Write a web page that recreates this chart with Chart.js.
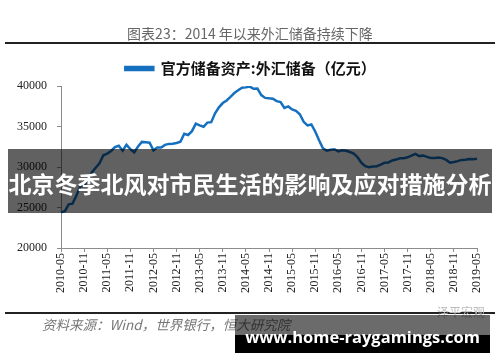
<!DOCTYPE html>
<html>
<head>
<meta charset="utf-8">
<script src="https://cdn.jsdelivr.net/npm/chart.js@4"></script>
<style>
  body { margin: 0; background: #fff; }
  #wrap { position: relative; width: 500px; height: 362px; overflow: hidden; font-family: "Noto Sans CJK SC", sans-serif; }
  #chart { position: absolute; left: 0; top: 0; }
  .abs { position: absolute; }
  #title { top: 24px; left: 0; width: 500px; text-align: center; font-size: 14px; color: #666; line-height: 18px; }
  .rule { left: 5px; width: 490px; height: 2px; background: #222; }
  #source { left: 42px; top: 315px; font-size: 13.5px; font-style: italic; color: #777; line-height: 18px; }
  #mark { left: 437px; top: 305px; font-size: 12px; color: #bbb; line-height: 14px; }
  #banner { left: 8px; top: 149px; width: 484px; height: 64px; background: rgba(0,0,0,0.62);
            color: #fff; font-weight: bold; font-size: 23px; line-height: 64px; text-align: center; padding-top: 2px; box-sizing: border-box; white-space: nowrap; }
  #site1 { left: 235px; top: 315px; width: 255px; height: 20px; background: rgba(0,0,0,0.58); }
  #site2 { left: 235px; top: 335px; width: 255px; height: 18px; background: #000; }
  #site { left: 235px; top: 325px; width: 255px; text-align: center; color: #fff; font-family: "Open Sans", sans-serif; font-weight: bold; font-size: 16.5px; line-height: 24px; white-space: nowrap; }
</style>
</head>
<body>
<div id="wrap">
  <canvas id="chart" width="500" height="362"></canvas>
  <div id="title" class="abs">图表23：2014 年以来外汇储备持续下降</div>
  <div class="abs rule" style="top:42px"></div>
  <div class="abs rule" style="top:312px"></div>
  <div id="mark" class="abs">泽平宏观</div>
  <div id="source" class="abs">资料来源：Wind，世界银行，恒大研究院</div>
  <div id="banner" class="abs">北京冬季北风对市民生活的影响及应对措施分析</div>
  <div id="site1" class="abs"></div>
  <div id="site2" class="abs"></div>
  <div id="site" class="abs">www.home-raygamings.com</div>
</div>
<script>
const seriesName = '官方储备资产:外汇储备（亿元）'
const yTicks = [20000, 25000, 30000, 35000, 40000]
// monthly, 2010-05 .. 2019-05
const reserves2010 = [24395, 24543, 25386, 25478, 26483, 27609, 27678, 28473]
const reserves2011 = [29317, 29914, 30447, 31448, 31662, 31975, 32453, 32625, 32017, 32738, 32209, 31811]
const reserves2012 = [32536, 33096, 33050, 32995, 32061, 32400, 32400, 32729, 32851, 32874, 32970, 33116]
const reserves2013 = [34100, 33954, 34426, 35345, 35148, 34967, 35478, 35530, 36627, 37366, 37895, 38213]
const reserves2014 = [38664, 39137, 39481, 39788, 39839, 39932, 39663, 39688, 38877, 38529, 38474, 38430]
const reserves2015 = [38134, 38015, 37300, 37481, 37111, 36938, 36513, 35574, 35141, 35255, 34384, 33304]
const reserves2016 = [32309, 32023, 32126, 32197, 31917, 32052, 32011, 31852, 31664, 31207, 30516, 30105]
const reserves2017 = [29982, 30051, 30091, 30295, 30536, 30568, 30807, 30915, 31085, 31092, 31193, 31399]
const reserves2018 = [31615, 31345, 31428, 31249, 31106, 31121, 31179, 31097, 30870, 30531, 30617, 30727]
const reserves2019 = [30879, 30902, 30988, 30949, 31010]

const values = [].concat(reserves2010, reserves2011, reserves2012, reserves2013, reserves2014,
  reserves2015, reserves2016, reserves2017, reserves2018, reserves2019)

const months = []
for (let i = 0; i < values.length; i++) {
  const m = 4 + i
  const y = 2010 + Math.floor(m / 12)
  months.push(y + '-' + String(m % 12 + 1).padStart(2, '0'))
}

const axisGrey = '#8c8c8c'
const tickFont = { family: 'Liberation Serif', size: 12 }

// legend in the picture sits a bit right of the plot centre
const nudgeLegend = {
  id: 'nudgeLegend',
  afterLayout(chart) {
    chart.legend.left += 12
    chart.legend.right += 12
  }
}

new Chart(document.getElementById('chart'), {
  type: 'line',
  data: {
    labels: months,
    datasets: [{
      label: seriesName,
      data: values,
      borderColor: '#1570bf',
      backgroundColor: '#1570bf',
      borderWidth: 2.5,
      pointRadius: 0,
      tension: 0
    }]
  },
  options: {
    responsive: false,
    animation: false,
    layout: { padding: { left: 0, right: 23, top: 52, bottom: 0 } },
    plugins: {
      tooltip: { enabled: false },
      legend: {
        position: 'top',
        labels: {
          boxWidth: 28,
          boxHeight: 3,
          padding: 9,
          color: '#111',
          font: { family: 'Noto Sans CJK SC', size: 15, weight: 'bold' }
        }
      }
    },
    scales: {
      x: {
        offset: false,
        border: { color: axisGrey, width: 1 },
        grid: {
          drawOnChartArea: false,
          tickLength: 4,
          color: ctx => (ctx.index % 6 === 0 ? axisGrey : 'rgba(0,0,0,0)')
        },
        ticks: {
          autoSkip: false,
          minRotation: 90,
          maxRotation: 90,
          padding: 1,
          color: '#222',
          font: tickFont,
          callback: (v, i) => (i % 6 === 0 ? months[i] : '')
        },
        afterFit: s => { s.height = 114 }
      },
      y: {
        min: 20000,
        max: 40000,
        border: { color: axisGrey, width: 1 },
        grid: { drawOnChartArea: false, tickLength: 4, color: axisGrey },
        afterBuildTicks: s => { s.ticks = yTicks.map(v => ({ value: v })) },
        ticks: { padding: 10, color: '#222', font: tickFont, callback: v => String(v) },
        afterFit: s => { s.width = 61 }
      }
    }
  },
  plugins: [nudgeLegend]
})
</script>
</body>
</html>
